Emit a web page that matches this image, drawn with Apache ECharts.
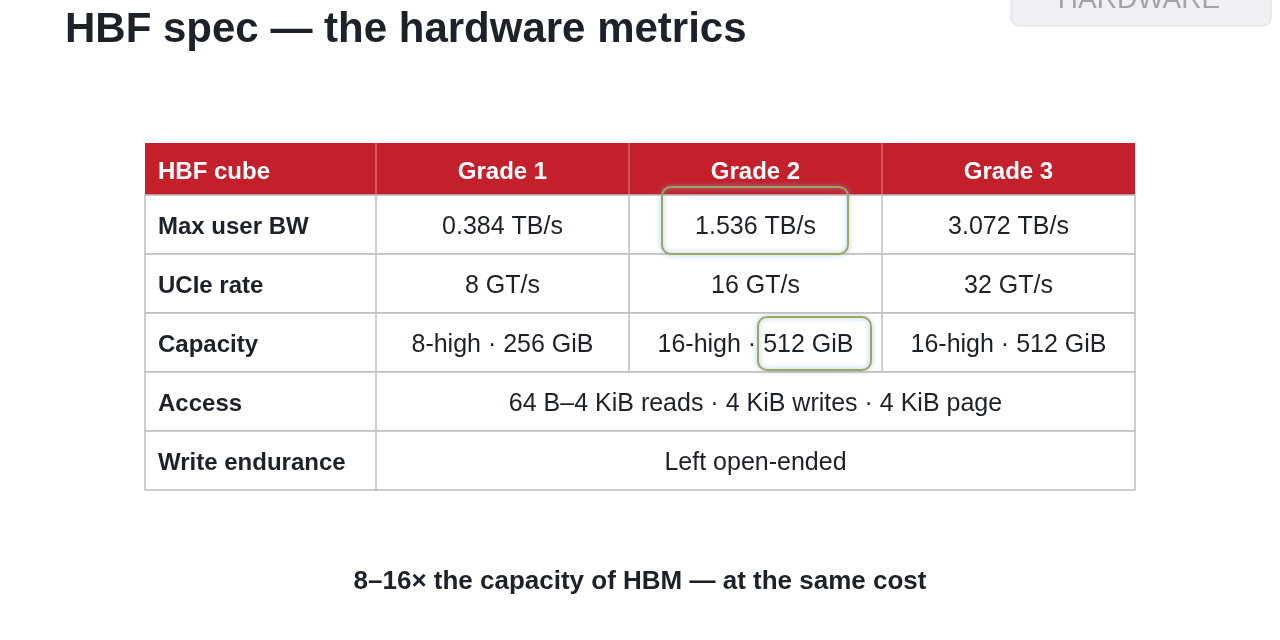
<!DOCTYPE html>
<html><head><meta charset="utf-8">
<script src="https://cdn.jsdelivr.net/npm/echarts@6/dist/echarts.min.js"></script>
<style>html,body{margin:0;padding:0;background:#fff}#c{width:1280px;height:640px}</style>
</head><body><div id="c"></div>
<script>
const headers = ['HBF cube','Grade 1','Grade 2','Grade 3'];
const rowLabels = ['Max user BW','UCIe rate','Capacity','Access','Write endurance'];
const grade1 = ['0.384 TB/s','8 GT/s','8-high · 256 GiB'];
const grade2 = ['1.536 TB/s','16 GT/s','16-high · 512 GiB'];
const grade3 = ['3.072 TB/s','32 GT/s','16-high · 512 GiB'];
const spanned = ['64 B–4 KiB reads · 4 KiB writes · 4 KiB page','Left open-ended'];

const colX = [145,376,629,882,1135];
const top0 = 143, headH = 52, rowH = 59;
const F = 'Liberation Sans, Arial, sans-serif';
const dy = 3;
const g = [];
g.push({type:'rect',shape:{x:colX[0],y:top0,width:colX[4]-colX[0],height:headH},style:{fill:'#c3202b'}});
headers.forEach((h,i)=>{
  const x0=colX[i],x1=colX[i+1];
  g.push({type:'text',x:i===0?x0+13:(x0+x1)/2,y:top0+headH/2+dy,style:{text:h,fill:'#fff',font:'bold 24px '+F,align:i===0?'left':'center',verticalAlign:'middle'}});
  if(i>0) g.push({type:'line',shape:{x1:x0,y1:top0,x2:x0,y2:top0+headH},style:{stroke:'#d98a8f',lineWidth:1}});
});
const cols=[grade1,grade2,grade3];
rowLabels.forEach((lab,r)=>{
  const y=top0+headH+r*rowH;
  g.push({type:'rect',shape:{x:colX[0],y:y,width:colX[4]-colX[0],height:rowH},style:{fill:'#fff',stroke:'#bdbdbd',lineWidth:1.5}});
  g.push({type:'line',shape:{x1:colX[1],y1:y,x2:colX[1],y2:y+rowH},style:{stroke:'#bdbdbd',lineWidth:1.5}});
  g.push({type:'text',x:colX[0]+13,y:y+rowH/2+dy,style:{text:lab,fill:'#1d2129',font:'bold 24px '+F,align:'left',verticalAlign:'middle'}});
  if(r<3){
    cols.forEach((c,i)=>{
      const x0=colX[i+1],x1=colX[i+2];
      if(i>0) g.push({type:'line',shape:{x1:x0,y1:y,x2:x0,y2:y+rowH},style:{stroke:'#bdbdbd',lineWidth:1.5}});
      g.push({type:'text',x:(x0+x1)/2,y:y+rowH/2+dy,style:{text:c[r],fill:'#1d2129',font:'25px '+F,align:'center',verticalAlign:'middle'}});
    });
  } else {
    g.push({type:'text',x:(colX[1]+colX[4])/2,y:y+rowH/2+dy,style:{text:spanned[r-3],fill:'#1d2129',font:'25px '+F,align:'center',verticalAlign:'middle'}});
  }
});
const hl=[[662,187,186,67],[758,317,113,53]];
hl.forEach(b=>g.push({type:'rect',shape:{x:b[0],y:b[1],width:b[2],height:b[3],r:9},style:{fill:'none',stroke:'#a3a55a',lineWidth:2,shadowBlur:5,shadowColor:'rgba(120,180,230,0.9)'},z:10}));
g.push({type:'text',x:65,y:30,style:{text:'HBF spec — the hardware metrics',fill:'#1d2129',font:'bold 42px '+F,verticalAlign:'middle'}});
g.push({type:'rect',shape:{x:1011,y:-20,width:260,height:46,r:8},style:{fill:'#eef0f3',stroke:'#dcdfe3',lineWidth:1}});
g.push({type:'text',x:1139,y:0,style:{text:'HARDWARE',fill:'#a0a4aa',font:'28px '+F,align:'center',verticalAlign:'middle'}});
g.push({type:'text',x:640,y:582,style:{text:'8–16× the capacity of HBM — at the same cost',fill:'#1d2129',font:'bold 26px '+F,align:'center',verticalAlign:'middle'}});
const chart=echarts.init(document.getElementById('c'));
chart.setOption({animation:false,graphic:g});
</script></body></html>
